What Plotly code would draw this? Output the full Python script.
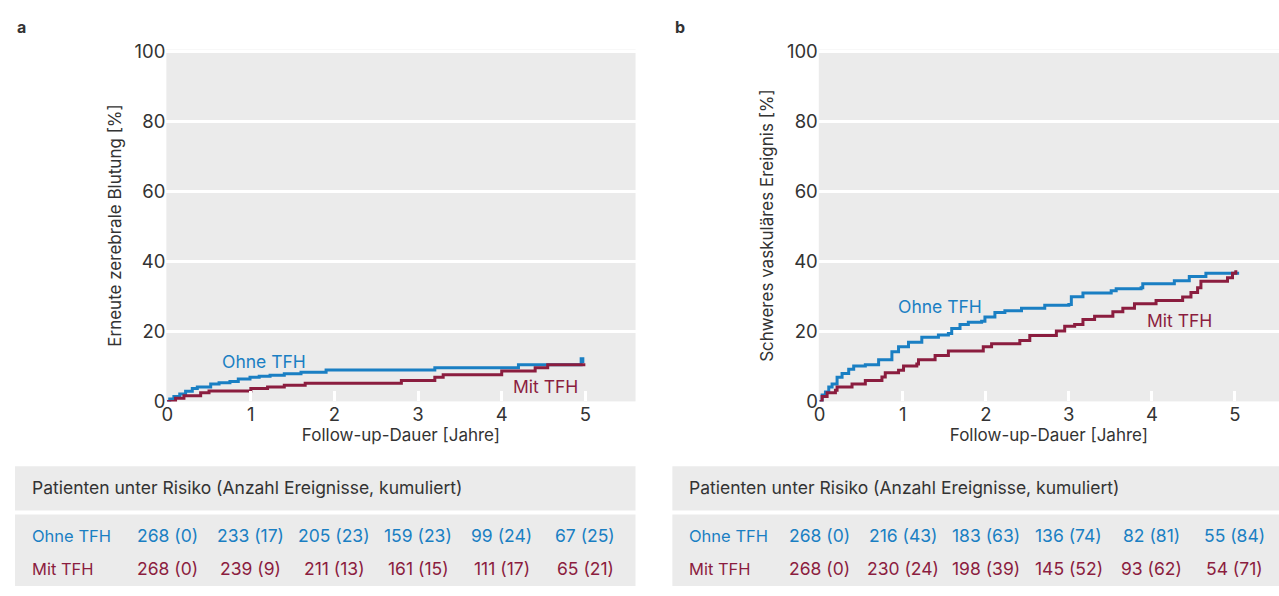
import plotly.graph_objects as go

# ---------------- data ----------------
# Panel a: Erneute zerebrale Blutung
a_ohne_t = [0, 0.03, 0.08, 0.15, 0.22, 0.30, 0.36, 0.52, 0.62, 0.75, 0.85, 0.99, 1.10, 1.23, 1.40, 1.60, 1.90, 3.20, 4.20, 4.95, 4.97]
a_ohne_y = [0, 0.7, 1.4, 2.1, 2.9, 3.7, 4.1, 5.0, 5.3, 5.7, 6.4, 6.9, 7.2, 7.5, 7.9, 8.3, 9.0, 9.6, 10.5, 12.2, 11.0]
a_mit_t = [0, 0.10, 0.20, 0.40, 0.50, 1.00, 1.20, 1.40, 1.65, 2.80, 3.20, 3.30, 4.00, 4.40, 4.55, 5.00]
a_mit_y = [0, 0.9, 1.6, 2.5, 3.0, 3.7, 4.1, 4.6, 5.2, 6.0, 6.9, 7.6, 8.7, 9.6, 10.5, 10.5]

# Panel b: Schweres vaskuläres Ereignis
b_ohne_t = [0, 0.03, 0.07, 0.11, 0.15, 0.21, 0.27, 0.35, 0.41, 0.55, 0.71, 0.87, 0.95, 1.07, 1.23, 1.43, 1.55, 1.59, 1.69, 1.79, 1.95, 1.99, 2.11, 2.23, 2.43, 2.71, 3.00, 3.03, 3.17, 3.51, 3.57, 3.87, 3.89, 4.27, 4.45, 4.65, 5.05]
b_ohne_y = [0, 1.8, 2.7, 4.1, 5.0, 6.9, 8.0, 9.2, 10.1, 10.5, 11.9, 14.2, 15.6, 16.9, 18.3, 19.0, 19.4, 20.8, 22.0, 22.6, 22.9, 24.1, 25.4, 25.9, 26.6, 27.5, 27.7, 29.9, 31.0, 31.6, 32.2, 32.5, 33.6, 34.5, 35.7, 36.6, 36.6]
b_mit_t = [0, 0.03, 0.09, 0.19, 0.21, 0.39, 0.55, 0.75, 0.79, 0.95, 1.01, 1.17, 1.19, 1.39, 1.55, 1.97, 2.07, 2.41, 2.53, 2.85, 2.95, 3.07, 3.17, 3.31, 3.53, 3.65, 3.79, 4.05, 4.37, 4.47, 4.55, 4.59, 4.91, 4.97, 5.01]
b_mit_y = [0, 1.4, 2.5, 3.2, 4.1, 5.0, 6.0, 7.0, 8.2, 8.9, 10.1, 10.7, 11.9, 13.1, 14.4, 15.6, 16.5, 17.4, 18.8, 20.1, 21.5, 22.0, 23.4, 24.3, 25.6, 26.6, 27.9, 28.8, 29.8, 31.1, 32.5, 34.3, 35.3, 36.6, 37.5]

years = [0, 1, 2, 3, 4, 5]
a_risk_ohne = ["268 (0)", "233 (17)", "205 (23)", "159 (23)", "99 (24)", "67 (25)"]
a_risk_mit = ["268 (0)", "239 (9)", "211 (13)", "161 (15)", "111 (17)", "65 (21)"]
b_risk_ohne = ["268 (0)", "216 (43)", "183 (63)", "136 (74)", "82 (81)", "55 (84)"]
b_risk_mit = ["268 (0)", "230 (24)", "198 (39)", "145 (52)", "93 (62)", "54 (71)"]

BLUE = "#1a7fc3"
RED = "#8b1d3f"
GRAY = "#ebebeb"
TXT = "#333333"
FONT = "Inter"

W, H = 1279, 596

def px(x):
    return x / W

def py(y):
    return 1 - y / H

fig = go.Figure()

fig.add_trace(go.Scatter(x=a_ohne_t, y=a_ohne_y, mode="lines", line=dict(color=BLUE, width=3, shape="hv"), xaxis="x", yaxis="y", showlegend=False))
fig.add_trace(go.Scatter(x=a_mit_t, y=a_mit_y, mode="lines", line=dict(color=RED, width=3, shape="hv"), xaxis="x", yaxis="y", showlegend=False))
fig.add_trace(go.Scatter(x=b_ohne_t, y=b_ohne_y, mode="lines", line=dict(color=BLUE, width=3, shape="hv"), xaxis="x2", yaxis="y2", showlegend=False))
fig.add_trace(go.Scatter(x=b_mit_t, y=b_mit_y, mode="lines", line=dict(color=RED, width=3, shape="hv"), xaxis="x2", yaxis="y2", showlegend=False))

ydom = [py(405), py(41)]
common_x = dict(tickvals=years, ticks="inside", ticklen=10, tickwidth=3, tickcolor="white",
                showgrid=False, zeroline=False, showline=False,
                tickfont=dict(size=18.5, color=TXT, family=FONT),
                title=dict(text="Follow-up-Dauer [Jahre]", font=dict(size=17, color=TXT, family=FONT), standoff=4))
common_y = dict(range=[0, 100.5], tickvals=[0, 20, 40, 60, 80, 100], ticks="", showgrid=True, gridcolor="white",
                gridwidth=3, zeroline=False, showline=False, domain=ydom,
                tickfont=dict(size=18.5, color=TXT, family=FONT))

fig.update_layout(
    width=W, height=H,
    margin=dict(l=0, r=0, t=0, b=0),
    paper_bgcolor="white",
    plot_bgcolor=GRAY,
    font=dict(family=FONT, color=TXT),
    xaxis=dict(domain=[px(162), px(633)], range=[-0.01, 5.6], anchor="y", **common_x),
    yaxis=dict(anchor="x", title=dict(text="Erneute zerebrale Blutung [%]", font=dict(size=17, color=TXT, family=FONT), standoff=8), **common_y),
    xaxis2=dict(domain=[px(817), 1.0], range=[-0.01, 5.53], anchor="y2", **common_x),
    yaxis2=dict(anchor="x2", title=dict(text="Schweres vaskuläres Ereignis [%]", font=dict(size=17, color=TXT, family=FONT), standoff=8), **common_y),
)

shapes = []
annotations = []

# curve labels
annotations += [
    dict(x=1.16, y=11.3, xref="x", yref="y", text="Ohne TFH", showarrow=False, font=dict(size=17.5, color=BLUE, family=FONT)),
    dict(x=4.52, y=4.4, xref="x", yref="y", text="Mit TFH", showarrow=False, font=dict(size=17.5, color=RED, family=FONT)),
    dict(x=1.45, y=27.2, xref="x2", yref="y2", text="Ohne TFH", showarrow=False, font=dict(size=17.5, color=BLUE, family=FONT)),
    dict(x=4.33, y=23.0, xref="x2", yref="y2", text="Mit TFH", showarrow=False, font=dict(size=17.5, color=RED, family=FONT)),
]

# panel labels
annotations += [
    dict(x=px(10), y=py(18), xref="paper", yref="paper", xanchor="left", yanchor="middle", text="<b>a</b>", showarrow=False, font=dict(size=16, color=TXT, family=FONT)),
    dict(x=px(671), y=py(18), xref="paper", yref="paper", xanchor="left", yanchor="middle", text="<b>b</b>", showarrow=False, font=dict(size=16, color=TXT, family=FONT)),
]

# risk tables
tables = [
    (10, 633, "x", a_risk_ohne, a_risk_mit),
    (670, W, "x2", b_risk_ohne, b_risk_mit),
]
for x0, x1, xr, ohne, mit in tables:
    shapes.append(dict(type="rect", xref="paper", yref="paper", x0=px(x0), x1=px(x1), y0=py(518), y1=py(472), fillcolor=GRAY, line=dict(width=0), layer="below"))
    shapes.append(dict(type="rect", xref="paper", yref="paper", x0=px(x0), x1=px(x1), y0=0, y1=py(522), fillcolor=GRAY, line=dict(width=0), layer="below"))
    annotations.append(dict(x=px(x0 + 15), y=py(494), xref="paper", yref="paper", xanchor="left", yanchor="middle",
                            text="Patienten unter Risiko (Anzahl Ereignisse, kumuliert)", showarrow=False,
                            font=dict(size=17.5, color=TXT, family=FONT)))
    annotations.append(dict(x=px(x0 + 15), y=py(544), xref="paper", yref="paper", xanchor="left", yanchor="middle",
                            text="Ohne TFH", showarrow=False, font=dict(size=16.5, color=BLUE, family=FONT)))
    annotations.append(dict(x=px(x0 + 15), y=py(578), xref="paper", yref="paper", xanchor="left", yanchor="middle",
                            text="Mit TFH", showarrow=False, font=dict(size=16.5, color=RED, family=FONT)))
    for yr, t1, t2 in zip(years, ohne, mit):
        annotations.append(dict(x=yr, y=py(544), xref=xr, yref="paper", xanchor="center", yanchor="middle",
                                text=t1, showarrow=False, font=dict(size=17.5, color=BLUE, family=FONT)))
        annotations.append(dict(x=yr, y=py(578), xref=xr, yref="paper", xanchor="center", yanchor="middle",
                                text=t2, showarrow=False, font=dict(size=17.5, color=RED, family=FONT)))

fig.update_layout(shapes=shapes, annotations=annotations)
fig.write_html("out.html")
